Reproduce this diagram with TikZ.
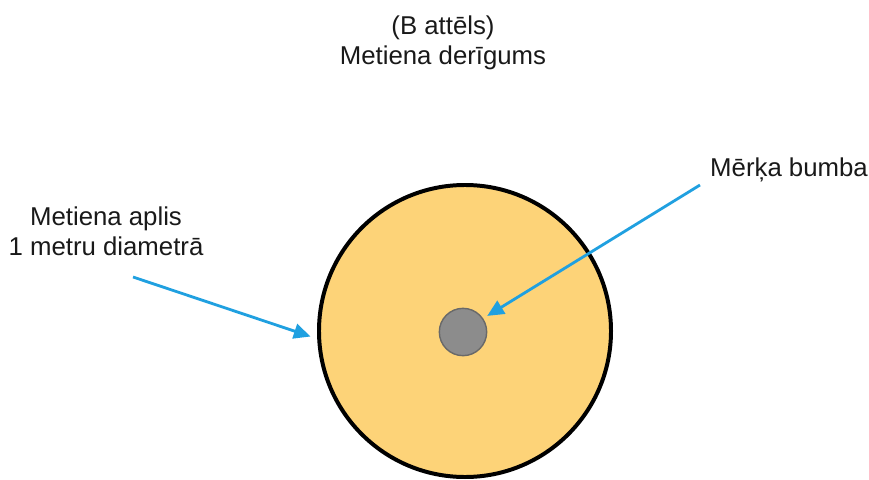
\documentclass[tikz,border=0pt]{standalone}
\usepackage{fontspec}
\setsansfont{Liberation Sans}
\usetikzlibrary{arrows.meta, positioning, calc}
\definecolor{SoftYellow}{RGB}{253,211,120}
\definecolor{BallGray}{RGB}{140,140,140}
\definecolor{BallEdge}{RGB}{105,105,105}
\definecolor{ArrowBlue}{RGB}{32,160,224}

\begin{document}
\begin{tikzpicture}[
    x=0.03cm, y=-0.03cm,
    font=\sffamily\fontsize{22}{25.6}\selectfont,
    txt/.style={align=center, inner sep=0pt, text=black!90},
    pointer/.style={-{Triangle[length=5mm, width=4.5mm]}, line width=2.4pt, ArrowBlue},
]
\useasboundingbox (0,0) rectangle (869,480);

% ---- virsraksts ----
\node[txt] (title) at (443,43) {(B attēls)\\Metiena derīgums};

% ---- metiena aplis un bumba ----
\node[circle, draw=black, line width=3.4pt, fill=SoftYellow, minimum size=8.76cm] (aplis) at (465,331) {};
\node[circle, draw=BallEdge, line width=1.2pt, fill=BallGray, minimum size=1.42cm] (bumba) at (463,332) {};

% ---- uzraksti ----
\node[txt] (aplisTxt) at (106,231) {Metiena aplis\\1 metru diametrā};
\node[txt, anchor=base west] (bumbaTxt) at (710,177) {Mērķa bumba};

% ---- bultas ----
\coordinate (aplisStart) at (133,277);
\coordinate (bumbaStart) at (700,185);
\draw[pointer, shorten >=6pt] (aplisStart) -- (aplis.183);
\draw[pointer, shorten >=4pt] (bumbaStart) -- (bumba.34);

\end{tikzpicture}
\end{document}
